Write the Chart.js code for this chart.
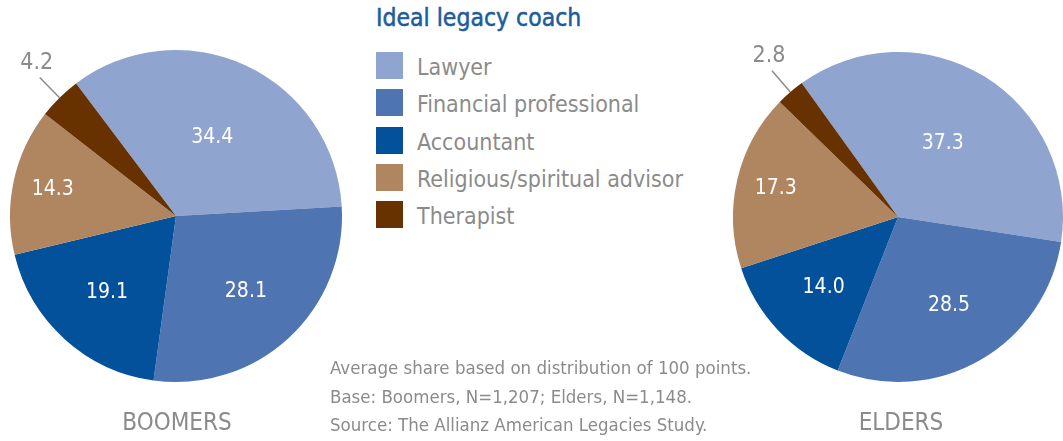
<!DOCTYPE html>
<html>
<head>
<meta charset="utf-8">
<script src="https://cdn.jsdelivr.net/npm/chart.js@4.4.1/dist/chart.umd.min.js"></script>
<style>
  body { margin: 0; width: 1063px; height: 441px; background: #fff; position: relative; overflow: hidden;
         font-family: "DejaVu Sans Condensed", sans-serif; color: #8b8b8b; }
  canvas { position: absolute; top: 0; }
  #boomers { left: 0; }
  #elders { left: 700px; }
  .title { position: absolute; left: 376px; top: 3px; font-size: 24.5px; color: #1b5c9e; -webkit-text-stroke: 0.5px #1b5c9e; }
  .legend { position: absolute; left: 376px; top: 52px; }
  .legend-item { height: 37.3px; position: relative; font-size: 23px; }
  .legend-item .sw { position: absolute; left: 0; top: 0; width: 27px; height: 27px; }
  .legend-item span { position: absolute; left: 41px; top: 2px; white-space: nowrap; }
  .group { position: absolute; top: 408px; font-size: 24px; width: 200px; text-align: center; }
  .note { position: absolute; left: 330px; top: 354px; font-size: 18.5px; line-height: 28.5px; }
</style>
</head>
<body>
<canvas id="boomers" width="360" height="441"></canvas>
<canvas id="elders" width="363" height="441"></canvas>
<div class="title">Ideal legacy coach</div>
<div class="legend" id="legend"></div>
<div class="group" style="left:77px">BOOMERS</div>
<div class="group" style="left:801px">ELDERS</div>
<div class="note">Average share based on distribution of 100 points.<br>Base: Boomers, N=1,207; Elders, N=1,148.<br>Source: The Allianz American Legacies Study.</div>
<script>
const categories = ['Lawyer', 'Financial professional', 'Accountant', 'Religious/spiritual advisor', 'Therapist'];
const boomersValues = [34.4, 28.1, 19.1, 14.3, 4.2];
const eldersValues = [37.3, 28.5, 14.0, 17.3, 2.8];
const colors = ['#8fa4cf', '#4e74b2', '#03519b', '#b08661', '#673200'];

// legend
const legendEl = document.getElementById('legend');
categories.forEach((c, i) => {
  const d = document.createElement('div');
  d.className = 'legend-item';
  d.innerHTML = '<div class="sw" style="background:' + colors[i] + '"></div><span>' + c + '</span>';
  legendEl.appendChild(d);
});

// value labels: inside for big slices, outside with a leader line for tiny ones
const sliceLabels = {
  id: 'sliceLabels',
  afterDatasetsDraw(chart) {
    const ctx = chart.ctx;
    const meta = chart.getDatasetMeta(0);
    const values = chart.data.datasets[0].data;
    meta.data.forEach((arc, i) => {
      const p = arc.getProps(['x', 'y', 'startAngle', 'endAngle', 'outerRadius'], true);
      const mid = (p.startAngle + p.endAngle) / 2;
      const cos = Math.cos(mid), sin = Math.sin(mid);
      const r = p.outerRadius;
      const v = values[i];
      ctx.save();
      ctx.textAlign = 'center';
      ctx.textBaseline = 'middle';
      if (v < 5) {
        const ex = p.x + cos * r * 1.17, ey = p.y + sin * r * 1.17;
        ctx.strokeStyle = '#8b8b8b';
        ctx.lineWidth = 1.5;
        ctx.beginPath();
        ctx.moveTo(p.x + cos * r, p.y + sin * r);
        ctx.lineTo(ex, ey);
        ctx.stroke();
        ctx.fillStyle = '#8b8b8b';
        ctx.font = '23px "DejaVu Sans Condensed", sans-serif';
        ctx.fillText(v.toFixed(1), ex - 3, ey - 15);
      } else {
        let f = v >= 30 ? 0.52 : 0.62;
        if (i === 3) f = 0.76;
        ctx.fillStyle = '#ffffff';
        ctx.font = '21px "DejaVu Sans Condensed", sans-serif';
        ctx.fillText(v.toFixed(1), p.x + cos * r * f, p.y + sin * r * f);
      }
      ctx.restore();
    });
  }
};

function makePie(id, values, rotation, padding) {
  return new Chart(document.getElementById(id), {
    type: 'pie',
    data: {
      labels: categories,
      datasets: [{ data: values, backgroundColor: colors, borderWidth: 0 }]
    },
    options: {
      responsive: false,
      animation: false,
      rotation: rotation,
      layout: { padding: padding },
      plugins: { legend: { display: false }, tooltip: { enabled: false } }
    },
    plugins: [sliceLabels]
  });
}

makePie('boomers', boomersValues, -37, { left: 10, right: 18, top: 50, bottom: 59 });
makePie('elders', eldersValues, -35.7, { left: 33, right: 0, top: 52, bottom: 59 });
</script>
</body>
</html>
